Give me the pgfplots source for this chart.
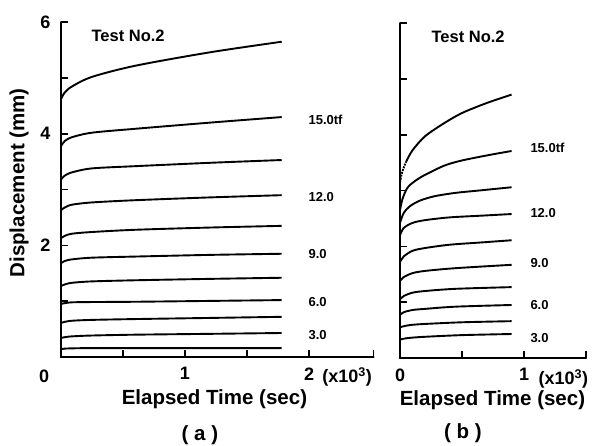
\documentclass[border=0pt]{standalone}
\usepackage{fontspec}
\setmainfont{Liberation Sans}
\usepackage{pgfplots}
\pgfplotsset{compat=1.18}
\tikzset{
  curvelab/.style={font=\fontsize{13}{15}\selectfont\bfseries, anchor=west},
  testlab/.style={font=\fontsize{16.5}{19}\selectfont\bfseries, anchor=west},
}
\begin{document}
\begin{tikzpicture}
\path[use as bounding box] (0,0) rectangle (593pt,446pt);
\pgfplotsset{
  mystyle/.style={
    x=124pt, y=55.8pt, anchor=origin,
    axis x line*=bottom, axis y line*=left,
    axis line style={line width=2.4pt, line cap=round},
    tick align=inside, major tick length=7pt,
    tick style={line width=1.6pt, black},
    ymin=0, ymax=6,
    ytick={1,2,3,4,5,6},
    tick label style={font=\fontsize{18}{20}\selectfont\bfseries},
    xticklabel style={yshift=-7pt},
    yticklabel style={xshift=-7pt},
    label style={font=\fontsize{20.5}{24}\selectfont\bfseries},
    cycle list={{black,solid,mark=none}},
    every axis plot/.append style={line width=1.9pt, smooth, tension=0.5},
    clip=false,
  },
}
% ---------------- panel (a) ----------------
\begin{axis}[mystyle, at={(61pt,89pt)}, xmin=0, xmax=2.52,
  xtick={0.5,1,1.5,2,2.52}, xticklabels={{},1,{},2,{}},
  yticklabels={{},2,{},4,{},6},
  xlabel={Elapsed Time (sec)}, ylabel={Displacement (mm)},
  xlabel style={at={(axis description cs:0.491,-0.125)}, anchor=center},
  ylabel style={at={(axis description cs:-0.134,0.52)}, anchor=center},
]
\addplot coordinates {(0,4.62)(0.03,4.74)(0.09,4.85)(0.25,5.02)(0.6,5.22)(1.2,5.46)(1.78,5.65)};
\addplot coordinates {(0,3.78)(0.03,3.87)(0.09,3.94)(0.25,4.02)(0.6,4.09)(1.2,4.20)(1.78,4.30)};
\addplot coordinates {(0,3.18)(0.03,3.25)(0.09,3.31)(0.25,3.38)(0.6,3.42)(1.2,3.48)(1.78,3.53)};
\addplot coordinates {(0,2.63)(0.03,2.68)(0.09,2.73)(0.25,2.77)(0.6,2.81)(1.2,2.86)(1.78,2.90)};
\addplot coordinates {(0,2.13)(0.03,2.17)(0.09,2.21)(0.25,2.24)(0.6,2.28)(1.2,2.32)(1.78,2.35)};
\addplot coordinates {(0,1.68)(0.03,1.72)(0.09,1.75)(0.25,1.78)(0.6,1.80)(1.2,1.83)(1.78,1.85)};
\addplot coordinates {(0,1.27)(0.03,1.30)(0.09,1.33)(0.25,1.355)(0.6,1.375)(1.2,1.40)(1.78,1.42)};
\addplot coordinates {(0,0.95)(0.03,0.965)(0.09,0.98)(0.25,0.985)(0.6,0.99)(1.2,1.005)(1.78,1.02)};
\addplot coordinates {(0,0.61)(0.03,0.63)(0.09,0.65)(0.25,0.665)(0.6,0.68)(1.2,0.70)(1.78,0.72)};
\addplot coordinates {(0,0.34)(0.03,0.355)(0.09,0.37)(0.25,0.385)(0.6,0.40)(1.2,0.415)(1.78,0.43)};
\addplot coordinates {(0,0.14)(0.03,0.15)(0.09,0.155)(0.25,0.16)(0.6,0.16)(1.2,0.16)(1.78,0.16)};
\node[testlab] at (axis cs:0.218,5.75) {Test No.2};
\node[curvelab] at (axis cs:1.968,4.25) {15.0tf};
\node[curvelab] at (axis cs:1.968,2.87) {12.0};
\node[curvelab] at (axis cs:1.968,1.85) {9.0};
\node[curvelab] at (axis cs:1.968,0.99) {6.0};
\node[curvelab] at (axis cs:1.968,0.39) {3.0};
\node[font=\fontsize{18}{20}\selectfont\bfseries] at (axis cs:-0.137,-0.34) {0};
\node[font=\fontsize{18}{20}\selectfont\bfseries, anchor=west] at (axis cs:2.08,-0.36) {(x10\textsuperscript{3})};
\node[font=\fontsize{20.5}{24}\selectfont\bfseries] at (axis cs:1.12,-1.4) {(~a~)};
\end{axis}
% ---------------- panel (b) ----------------
\begin{axis}[mystyle, at={(400pt,88pt)}, xmin=0, xmax=1.5,
  xtick={0,0.5,1,1.5}, xticklabels={0,{},1,{}},
  yticklabels={},
  xlabel={Elapsed Time (sec)},
  xlabel style={at={(axis description cs:0.497,-0.125)}, anchor=center},
]
\addplot[black, densely dotted] coordinates {(0,3.15)(0.02,3.35)(0.05,3.52)};
\addplot coordinates {(0.05,3.52)(0.1,3.72)(0.2,3.97)(0.35,4.20)(0.5,4.39)(0.7,4.57)(0.9,4.72)};
\addplot coordinates {(0,2.65)(0.02,2.85)(0.06,3.05)(0.12,3.17)(0.2,3.28)(0.36,3.45)(0.5,3.54)(0.7,3.63)(0.9,3.71)};
\addplot coordinates {(0,2.42)(0.03,2.6)(0.08,2.72)(0.16,2.82)(0.28,2.90)(0.45,2.96)(0.63,3.00)(0.9,3.06)};
\addplot coordinates {(0,2.2)(0.03,2.33)(0.1,2.42)(0.2,2.47)(0.4,2.52)(0.65,2.55)(0.9,2.58)};
\addplot coordinates {(0,1.72)(0.03,1.82)(0.1,1.92)(0.2,1.97)(0.4,2.03)(0.65,2.07)(0.9,2.11)};
\addplot coordinates {(0,1.38)(0.03,1.45)(0.1,1.52)(0.2,1.56)(0.45,1.61)(0.9,1.67)};
\addplot coordinates {(0,1.05)(0.03,1.11)(0.1,1.17)(0.2,1.20)(0.45,1.24)(0.9,1.27)};
\addplot coordinates {(0,0.77)(0.03,0.82)(0.1,0.86)(0.2,0.88)(0.45,0.92)(0.9,0.95)};
\addplot coordinates {(0,0.55)(0.04,0.575)(0.1,0.595)(0.2,0.61)(0.5,0.64)(0.9,0.66)};
\addplot coordinates {(0,0.33)(0.04,0.35)(0.1,0.365)(0.2,0.38)(0.5,0.41)(0.9,0.43)};
\node[testlab] at (axis cs:0.226,5.75) {Test No.2};
\node[curvelab] at (axis cs:1.024,3.76) {15.0tf};
\node[curvelab] at (axis cs:1.024,2.60) {12.0};
\node[curvelab] at (axis cs:1.024,1.70) {9.0};
\node[curvelab] at (axis cs:1.024,0.95) {6.0};
\node[curvelab] at (axis cs:1.024,0.36) {3.0};
\node[font=\fontsize{18}{20}\selectfont\bfseries, anchor=west] at (axis cs:1.09,-0.38) {(x10\textsuperscript{3})};
\node[font=\fontsize{20.5}{24}\selectfont\bfseries] at (axis cs:0.508,-1.35) {(~b~)};
\end{axis}
\end{tikzpicture}
\end{document}
